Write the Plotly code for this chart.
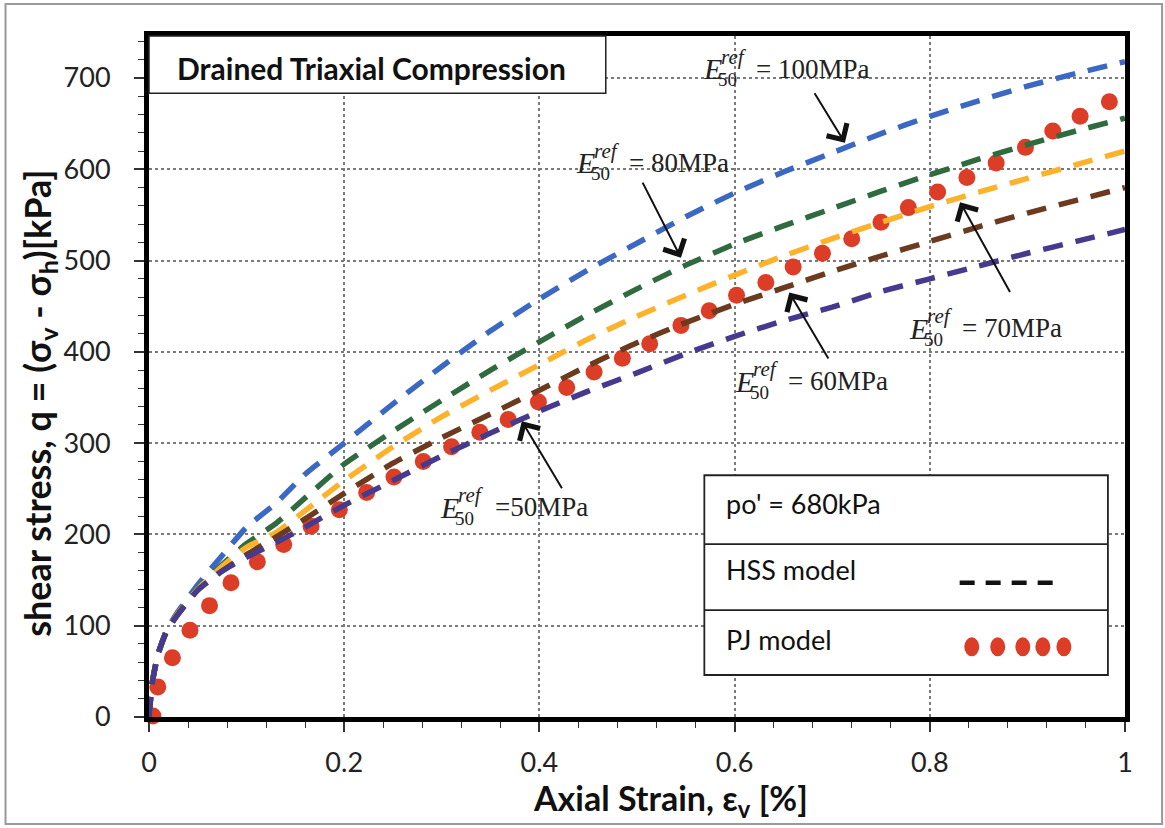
import plotly.graph_objects as go

# ---------------- data ----------------
strain = [0, 0.003, 0.009, 0.018, 0.03, 0.05, 0.075, 0.1, 0.13, 0.16, 0.2, 0.25, 0.3,
          0.35, 0.4, 0.45, 0.5, 0.55, 0.6, 0.65, 0.7, 0.75, 0.8, 0.85, 0.9, 0.95, 1.0]
q_e100 = [0, 35, 68, 95, 116, 145, 177, 208, 234, 266, 300, 343, 384,
          423, 458, 490, 519, 548, 574, 597, 618, 639, 658, 675, 691, 705, 718]
q_e80 = [0, 35, 68, 94, 114, 141, 167, 190, 212, 240, 277, 313, 347,
         380, 411, 441, 469, 495, 518, 538, 557, 576, 594, 611, 627, 642, 656]
q_e70 = [0, 35, 68, 94, 114, 140, 165, 186, 202, 226, 259, 296, 329,
         358, 386, 414, 439, 462, 484, 505, 524, 542, 559, 575, 590, 605, 620]
q_e60 = [0, 35, 68, 94, 113, 139, 160, 178, 197, 217, 245, 278, 306,
         332, 358, 385, 410, 432, 452, 470, 488, 505, 521, 537, 552, 566, 580]
q_e50 = [0, 35, 68, 94, 113, 139, 160, 175, 191, 208, 232, 259, 286,
         311, 335, 357, 377, 398, 417, 434, 449, 466, 480, 494, 508, 521, 534]

pj_strain = [0.004, 0.009, 0.024, 0.042, 0.062, 0.084, 0.111, 0.138, 0.166, 0.195,
             0.223, 0.251, 0.281, 0.31, 0.339, 0.368, 0.399, 0.428, 0.456, 0.485,
             0.513, 0.545, 0.574, 0.602, 0.632, 0.660, 0.690, 0.720, 0.750, 0.778,
             0.808, 0.838, 0.868, 0.898, 0.926, 0.954, 0.984]
pj_q = [1, 33, 65, 95, 122, 147, 170, 189, 209, 227,
        246, 263, 280, 296, 312, 326, 345, 361, 378, 393,
        409, 429, 445, 462, 476, 493, 508, 524, 542, 558,
        575, 591, 607, 624, 642, 658, 674]

e50_values = ["100MPa", "80MPa", "70MPa", "60MPa", "50MPa"]
x_ticks = [0, 0.2, 0.4, 0.6, 0.8, 1]
y_ticks = [0, 100, 200, 300, 400, 500, 600, 700]

# ---------------- styles ----------------
SANS = "Lato"
SERIF = "Liberation Serif"
colors = {"100MPa": "#3B68C2", "80MPa": "#2F6B3F", "70MPa": "#FDB22B",
          "60MPa": "#6B3A1F", "50MPa": "#463A8E"}
series = {"100MPa": q_e100, "80MPa": q_e80, "70MPa": q_e70,
          "60MPa": q_e60, "50MPa": q_e50}
RED = "#DC3D27"

fig = go.Figure()

fig.add_trace(go.Scatter(x=pj_strain, y=pj_q, mode="markers", name="PJ model",
                         marker=dict(color=RED, size=17, line=dict(width=0)),
                         cliponaxis=False, showlegend=False))

for key in e50_values:
    fig.add_trace(go.Scatter(x=strain, y=series[key], mode="lines", name=key,
                             line=dict(color=colors[key], width=5.5, dash="20px,13px",
                                       shape="spline", smoothing=0.5),
                             showlegend=False))

# ---------------- E50 labels + arrows ----------------
labels = [
    # value, label x, label y, tip x, tip y, tail x, tail y, eq text
    ("100MPa", 0.566, 710, 0.713, 629, 0.681, 685, "= 100MPa"),
    ("80MPa", 0.435, 607, 0.545, 503, 0.505, 587, "= 80MPa"),
    ("70MPa", 0.777, 426, 0.831, 564, 0.883, 464, "= 70MPa"),
    ("60MPa", 0.598, 368, 0.656, 465, 0.697, 391, "= 60MPa"),
    ("50MPa", 0.296, 230, 0.382, 324, 0.424, 249, "=50MPa"),
]
ann = []
for val, lx, ly, tx, ty, ax_, ay_, eq in labels:
    ann.append(dict(x=lx, y=ly, xref="x", yref="y", text="<i>E</i>", showarrow=False,
                    xanchor="left", yanchor="middle",
                    font=dict(family=SERIF, size=30, color="#222")))
    ann.append(dict(x=lx, y=ly, xref="x", yref="y", text="<i>ref</i>", showarrow=False,
                    xanchor="left", yanchor="middle", xshift=18, yshift=12,
                    font=dict(family=SERIF, size=21, color="#222")))
    ann.append(dict(x=lx, y=ly, xref="x", yref="y", text="50", showarrow=False,
                    xanchor="left", yanchor="middle", xshift=15, yshift=-11,
                    font=dict(family=SERIF, size=19, color="#222")))
    ann.append(dict(x=lx, y=ly, xref="x", yref="y", text=eq, showarrow=False,
                    xanchor="left", yanchor="middle", xshift=53 if eq.startswith("= ") else 55,
                    font=dict(family=SERIF, size=27, color="#222")))
    ann.append(dict(x=tx, y=ty, xref="x", yref="y", ax=ax_, ay=ay_, axref="x", ayref="y",
                    text="", showarrow=True, arrowhead=4, arrowsize=2.3, arrowwidth=2,
                    arrowcolor="#111"))

# ---------------- title box text, axis titles, legend texts ----------------
ann.append(dict(x=0.027, y=0.953, xref="paper", yref="paper",
                text="<b>Drained Triaxial Compression</b>", showarrow=False,
                xanchor="left", yanchor="middle",
                font=dict(family=SANS, size=30, color="#111")))
ann.append(dict(x=-0.113, y=0.461, xref="paper", yref="paper", textangle=-90,
                text="<b>shear stress, q = (σ<sub>v</sub> - σ<sub>h</sub>)[kPa]</b>",
                showarrow=False, xanchor="center", yanchor="middle",
                font=dict(family=SANS, size=36, color="#111")))
ann.append(dict(x=0.534, y=-0.122, xref="paper", yref="paper",
                text="<b>Axial Strain, ε<sub>v</sub> [%]</b>",
                showarrow=False, xanchor="center", yanchor="middle",
                font=dict(family=SANS, size=34, color="#111")))
for txt, yy in [("po' = 680kPa", 0.313), ("HSS model", 0.216), ("PJ model", 0.1145)]:
    ann.append(dict(x=0.589, y=yy, xref="paper", yref="paper", text=txt,
                    showarrow=False, xanchor="left", yanchor="middle",
                    font=dict(family=SANS, size=27, color="#111")))

# ---------------- shapes ----------------
shapes = [
    # outer figure border
    dict(type="rect", xref="paper", yref="paper", x0=-0.147, x1=1.038, y0=-0.157, y1=1.047,
         line=dict(color="#9a9a9a", width=2), layer="below"),
    # title box
    dict(type="rect", xref="paper", yref="paper", x0=0, x1=0.468, y0=0.916, y1=1,
         line=dict(color="#222", width=1.5), fillcolor="white", layer="above"),
    # legend box
    dict(type="rect", xref="paper", yref="paper", x0=0.569, x1=0.9825, y0=0.0617, y1=0.355,
         line=dict(color="#222", width=1.8), fillcolor="white", layer="above"),
    dict(type="line", xref="paper", yref="paper", x0=0.569, x1=0.9825, y0=0.254, y1=0.254,
         line=dict(color="#222", width=1.8)),
    dict(type="line", xref="paper", yref="paper", x0=0.569, x1=0.9825, y0=0.157, y1=0.157,
         line=dict(color="#222", width=1.8)),
    # legend dash sample
    dict(type="line", xref="paper", yref="paper", x0=0.8306, x1=0.9353, y0=0.197, y1=0.197,
         line=dict(color="#111", width=4.5, dash="15px,11px")),
]
for cx in [0.843, 0.8696, 0.8953, 0.9158, 0.9374]:
    shapes.append(dict(type="circle", xref="paper", yref="paper",
                       xsizemode="pixel", ysizemode="pixel", xanchor=cx, yanchor=0.103,
                       x0=-7.5, x1=7.5, y0=-9.5, y1=9.5,
                       fillcolor=RED, line=dict(width=0)))

axis_common = dict(showline=True, linecolor="black", linewidth=5, mirror=True,
                   showgrid=True, gridcolor="#7a7a7a", gridwidth=1.5, griddash="dot",
                   zeroline=False, ticks="outside", ticklen=10, tickwidth=1.5,
                   tickcolor="#333",
                   tickfont=dict(family=SANS, size=27, color="#222"))

fig.update_layout(
    width=1165, height=828,
    margin=dict(l=149, r=40, t=36, b=111),
    paper_bgcolor="white", plot_bgcolor="white",
    xaxis=dict(range=[0, 1], tickvals=x_ticks, ticktext=[str(v) for v in x_ticks],
               minor=dict(dtick=0.04, tick0=0, ticks="outside", ticklen=6, tickwidth=1.2,
                          tickcolor="#333", showgrid=False),
               ticklabelstandoff=8, **axis_common),
    yaxis=dict(range=[0, 746], tickvals=y_ticks,
               minor=dict(dtick=20, tick0=0, ticks="outside", ticklen=6, tickwidth=1.2,
                          tickcolor="#333", showgrid=False),
               ticklabelstandoff=18, **axis_common),
    annotations=ann,
    shapes=shapes,
    showlegend=False,
)

fig.write_html("out.html", config={"displayModeBar": False},
               post_script="document.body.style.margin='0px';document.body.style.overflow='hidden';")
